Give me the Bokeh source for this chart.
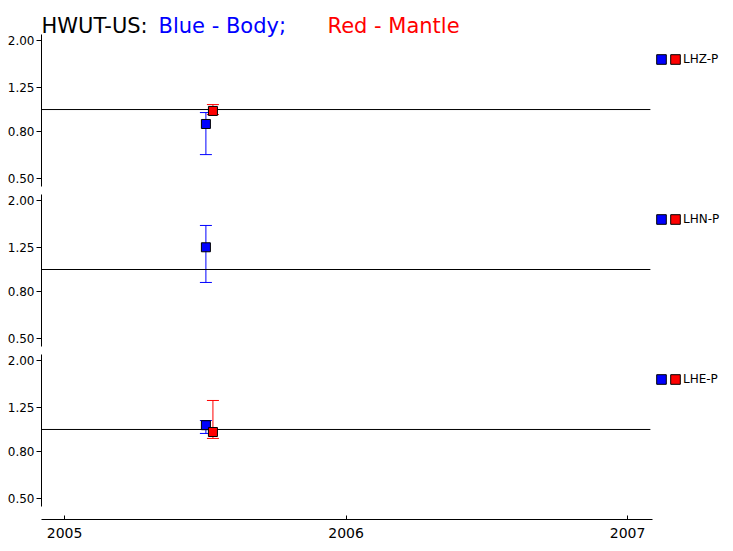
from bokeh.plotting import figure
from bokeh.layouts import column
from bokeh.models import (Range1d, FixedTicker, PrintfTickFormatter, Whisker, TeeHead,
                          ColumnDataSource, Legend, LegendItem, Label)
from bokeh.core.properties import value
from bokeh.embed import file_html
from bokeh.resources import INLINE

# ---- data ----
components = ["LHZ-P", "LHN-P", "LHE-P"]
body_date = [2005.502, 2005.502, 2005.502]
body_ratio = [0.865, 1.25, 1.044]
body_low = [0.636, 0.878, 0.961]
body_high = [0.970, 1.556, 1.094]
mantle_date = [2005.527, None, 2005.527]
mantle_ratio = [0.986, None, 0.975]
mantle_low = [0.951, None, 0.914]
mantle_high = [1.051, None, 1.338]
x_ticks = [2005, 2006, 2007]
y_ticks = [0.5, 0.8, 1.25, 2.0]
ref_ratio = 1.0
title_parts = [("HWUT-US:", "black"), ("Blue - Body;", "blue"), ("Red - Mantle", "red")]

# ---- layout ----
FONT = "DejaVu Sans"
W = 733
LEFT = 41                      # frame left edge (px)
PPY = 281.5                    # px per year
x_start = 2004.918
x_axis_end = 2007.089
x_end = x_start + (W - LEFT) / PPY
PPL = 69.0                     # px per factor of 2 on the ratio axis
y_top = 2.123
y_bottom = 0.4617
y_bottom_last = 0.405
heights = [190, 160, 201]
tops = [0, 4, 4]
bottoms = [4, 4, 32]
title_px = [41, 158, 327]      # left edge of each title part
title_base_px = 25             # title baseline (px from top)
legend_x = 614                 # legend offset from frame left
legend_y = [120.5, 120.5, 133]  # legend bottom from frame bottom
NAN = float("nan")


def px_to_x(px):
    return x_start + (px - LEFT) / PPY


figs = []
for i, comp in enumerate(components):
    last = i == len(components) - 1
    # first panel: frame extends to the top of the page (room for the title)
    y_hi = 2.0 * 2 ** (40 / PPL) if i == 0 else y_top
    p = figure(width=W, height=heights[i], output_backend="svg", toolbar_location=None,
               x_range=Range1d(x_start, x_end),
               y_range=Range1d(y_bottom_last if last else y_bottom, y_hi),
               y_axis_type="log", x_axis_location="below" if last else None,
               min_border_left=LEFT, min_border_right=0, min_border_top=tops[i],
               min_border_bottom=bottoms[i])
    p.outline_line_color = None
    p.grid.visible = False
    p.background_fill_color = "white"
    p.border_fill_color = "white"

    ya = p.yaxis[0]
    ya.ticker = FixedTicker(ticks=y_ticks)
    ya.formatter = PrintfTickFormatter(format="%.2f")
    ya.bounds = (y_bottom, y_top)
    ya.major_tick_out = 5
    ya.major_tick_in = 0
    ya.minor_tick_out = 0
    ya.minor_tick_in = 0
    ya.major_label_standoff = 2
    ya.major_label_text_font = FONT
    ya.major_label_text_font_size = "12px"
    ya.major_label_text_color = "black"
    ya.axis_line_color = "black"
    ya.major_tick_line_color = "black"

    if last:
        xa = p.xaxis[0]
        xa.ticker = FixedTicker(ticks=x_ticks)
        xa.bounds = (x_start, x_axis_end)
        xa.major_tick_in = 4
        xa.major_tick_out = 0
        xa.minor_tick_in = 0
        xa.minor_tick_out = 0
        xa.major_label_standoff = 8
        xa.major_label_text_font = FONT
        xa.major_label_text_font_size = "14px"
        xa.major_label_text_color = "black"
        xa.axis_line_color = "black"

    # reference line at ratio 1
    p.segment(x0=[x_start], x1=[x_axis_end - 0.008], y0=[ref_ratio], y1=[ref_ratio],
              line_color="black", line_width=1)

    src_b = ColumnDataSource(dict(x=[body_date[i]], y=[body_ratio[i]],
                                  lo=[body_low[i]], hi=[body_high[i]]))
    p.add_layout(Whisker(source=src_b, base="x", upper="hi", lower="lo", dimension="height",
                         line_color="blue", line_width=1,
                         upper_head=TeeHead(size=12, line_color="blue", line_width=1),
                         lower_head=TeeHead(size=12, line_color="blue", line_width=1)))
    p.scatter("x", "y", source=src_b, marker="square", size=9,
              fill_color="blue", line_color="black", line_width=1)

    if mantle_ratio[i] is not None:
        src_m = ColumnDataSource(dict(x=[mantle_date[i]], y=[mantle_ratio[i]],
                                      lo=[mantle_low[i]], hi=[mantle_high[i]]))
        p.add_layout(Whisker(source=src_m, base="x", upper="hi", lower="lo", dimension="height",
                             line_color="red", line_width=1,
                             upper_head=TeeHead(size=12, line_color="red", line_width=1),
                             lower_head=TeeHead(size=12, line_color="red", line_width=1)))
        p.scatter("x", "y", source=src_m, marker="square", size=9,
                  fill_color="red", line_color="black", line_width=1)

    # legend swatches (not drawn in the plot area: NaN geometry)
    rb = p.quad(left=[NAN], right=[NAN], top=[NAN], bottom=[NAN],
                fill_color="blue", line_color="black", line_width=1)
    rr = p.quad(left=[NAN], right=[NAN], top=[NAN], bottom=[NAN],
                fill_color="red", line_color="black", line_width=1)
    leg = Legend(items=[LegendItem(label=value(""), renderers=[rb]),
                        LegendItem(label=value(comp), renderers=[rr])],
                 orientation="horizontal", location=(legend_x, legend_y[i]),
                 glyph_width=12, glyph_height=12, label_width=0, label_height=12,
                 label_standoff=2, spacing=0, padding=0, margin=0,
                 border_line_color=None, background_fill_alpha=0,
                 label_text_font=FONT, label_text_font_size="12px",
                 label_text_color="black")
    p.add_layout(leg)

    if i == 0:
        ty = 2.0 * 2 ** ((40 - title_base_px) / PPL)
        for (txt, col), tx in zip(title_parts, title_px):
            p.add_layout(Label(x=px_to_x(tx), y=ty, text=txt, text_color=col,
                               text_font=FONT, text_font_size="21px",
                               text_baseline="alphabetic"))
    figs.append(p)

layout = column(*figs, spacing=0)
open("out.html", "w").write(file_html(layout, INLINE))
